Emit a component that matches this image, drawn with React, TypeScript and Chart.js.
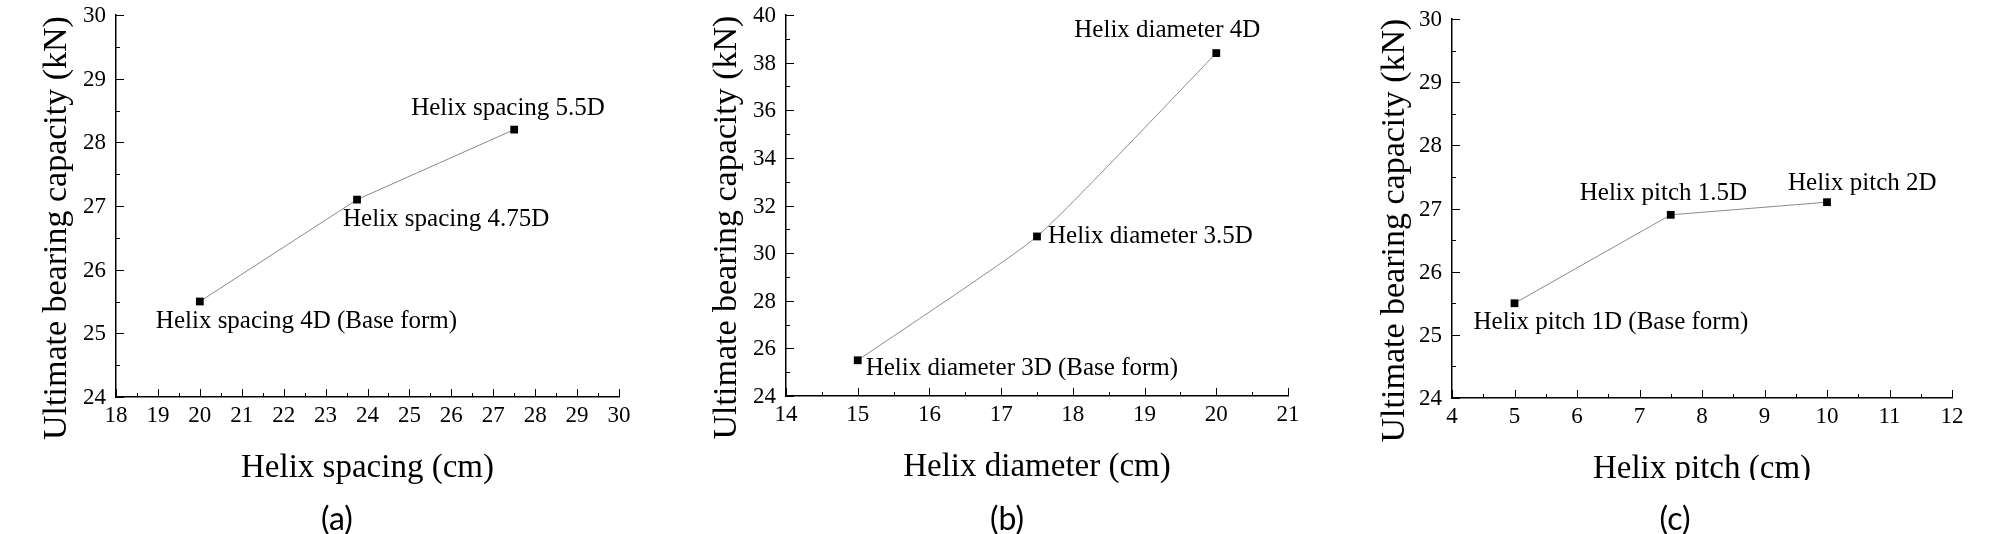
import { useEffect, useRef } from "react";
import { Chart, registerables } from "chart.js";

Chart.register(...registerables);

// ---------------- data ----------------
const spacingCm = [20, 23.75, 27.5];
const spacingCapacity = [25.5, 27.1, 28.2];
const spacingNotes = ["Helix spacing 4D (Base form)", "Helix spacing 4.75D", "Helix spacing 5.5D"];

const diameterCm = [15, 17.5, 20];
const diameterCapacity = [25.5, 30.7, 38.4];
const diameterNotes = ["Helix diameter 3D (Base form)", "Helix diameter 3.5D", "Helix diameter 4D"];

const pitchCm = [5, 7.5, 10];
const pitchCapacity = [25.5, 26.9, 27.1];
const pitchNotes = ["Helix pitch 1D (Base form)", "Helix pitch 1.5D", "Helix pitch 2D"];

const xAxisTitles = ["Helix spacing (cm)", "Helix diameter (cm)", "Helix pitch (cm)"];
const yAxisTitle = "Ultimate bearing capacity (kN)";
const panelCaptions = ["(a)", "(b)", "(c)"];

// axis ranges: min, max, labelled (major) step, minor step
const spacingAxis = [18, 30, 1, 0.5];
const diameterAxis = [14, 21, 1, 0.5];
const pitchAxis = [4, 12, 1, 0.5];
const capacityAxisA = [24, 30, 1, 0.5];
const capacityAxisB = [24, 40, 2, 1];
const capacityAxisC = [24, 30, 1, 0.5];

// ---------------- layout / style ----------------
const SERIF = "'Liberation Serif', 'Times New Roman', serif";
const PANEL_W = 670;
const PANEL_H = 534;
const Y_SCALE_W = 60;
const X_SCALE_H = 40;

type Panel = {
  left: number;
  area: { l: number; r: number; t: number; b: number };
  xs: number[];
  ys: number[];
  notes: string[];
  noteOffsets: [number, number][];
  xTitle: string;
  caption: string;
  xAxis: number[];
  yAxis: number[];
  tension: number;
  clipTitle: boolean;
};

const panels: Panel[] = [
  {
    left: 0,
    area: { l: 116, r: 619, t: 15, b: 397 },
    xs: spacingCm,
    ys: spacingCapacity,
    notes: spacingNotes,
    noteOffsets: [[-44, 20], [-14, 20], [-103, -21]],
    xTitle: xAxisTitles[0],
    caption: panelCaptions[0],
    xAxis: spacingAxis,
    yAxis: capacityAxisA,
    tension: 0,
    clipTitle: false,
  },
  {
    left: 670,
    area: { l: 116, r: 618, t: 15, b: 396 },
    xs: diameterCm,
    ys: diameterCapacity,
    notes: diameterNotes,
    noteOffsets: [[8, 8], [11, 0], [-142, -23]],
    xTitle: xAxisTitles[1],
    caption: panelCaptions[1],
    xAxis: diameterAxis,
    yAxis: capacityAxisB,
    tension: 0.15,
    clipTitle: false,
  },
  {
    left: 1338,
    area: { l: 114, r: 614, t: 19, b: 398 },
    xs: pitchCm,
    ys: pitchCapacity,
    notes: pitchNotes,
    noteOffsets: [[-41, 19], [-91, -21], [-39, -19]],
    xTitle: xAxisTitles[2],
    caption: panelCaptions[2],
    xAxis: pitchAxis,
    yAxis: capacityAxisC,
    tension: 0,
    clipTitle: true,
  },
];

const isMajor = (v: number, step: number) => Math.abs(v / step - Math.round(v / step)) < 1e-6;

function makeDecor(p: Panel) {
  return {
    id: "decor",
    afterDraw(chart: any) {
      const ctx = chart.ctx as CanvasRenderingContext2D;
      const xs = chart.scales.x;
      const ys = chart.scales.y;
      const ca = chart.chartArea;
      ctx.save();
      ctx.strokeStyle = "#000";
      ctx.fillStyle = "#000";
      ctx.lineWidth = 1;
      ctx.font = `23px ${SERIF}`;
      // x ticks: inward marks + labels
      ctx.textAlign = "center";
      ctx.textBaseline = "top";
      xs.ticks.forEach((t: any) => {
        const px = xs.getPixelForValue(t.value);
        const major = isMajor(t.value, p.xAxis[2]);
        const len = major ? 8 : 4;
        const ax = Math.round(px) + 0.5;
        ctx.beginPath();
        ctx.moveTo(ax, ca.bottom);
        ctx.lineTo(ax, ca.bottom - len);
        ctx.stroke();
        if (major) ctx.fillText(String(t.value), px, ca.bottom + 7);
      });
      // y ticks: inward marks + labels
      ctx.textAlign = "right";
      ctx.textBaseline = "middle";
      ys.ticks.forEach((t: any) => {
        const py = ys.getPixelForValue(t.value);
        const major = isMajor(t.value, p.yAxis[2]);
        const len = major ? 8 : 4;
        const ay = Math.round(py) + 0.5;
        ctx.beginPath();
        ctx.moveTo(ca.left, ay);
        ctx.lineTo(ca.left + len, ay);
        ctx.stroke();
        if (major) ctx.fillText(String(t.value), ca.left - 10, py + 1);
      });
      // point annotations
      ctx.font = `25px ${SERIF}`;
      ctx.textAlign = "left";
      ctx.textBaseline = "middle";
      p.notes.forEach((txt, i) => {
        const px = xs.getPixelForValue(p.xs[i]);
        const py = ys.getPixelForValue(p.ys[i]);
        ctx.fillText(txt, px + p.noteOffsets[i][0], py + p.noteOffsets[i][1]);
      });
      // x title
      ctx.save();
      if (p.clipTitle) {
        ctx.beginPath();
        ctx.rect(0, 0, chart.width, ca.bottom + 82);
        ctx.clip();
      }
      ctx.font = `33px ${SERIF}`;
      ctx.textAlign = "center";
      ctx.fillText(p.xTitle, (ca.left + ca.right) / 2, ca.bottom + 71);
      ctx.restore();
      // y title
      ctx.save();
      ctx.translate(57, (ca.top + ca.bottom) / 2 + 22);
      ctx.rotate(-Math.PI / 2);
      ctx.font = `34px ${SERIF}`;
      ctx.textAlign = "center";
      ctx.fillText(yAxisTitle, 0, 0);
      ctx.restore();
      // caption
      ctx.font = `32px Lato, 'Open Sans', sans-serif`;
      ctx.textAlign = "center";
      ctx.fillText(p.caption, 337, 520);
      ctx.restore();
    },
  };
}

function PanelChart({ p }: { p: Panel }) {
  const ref = useRef<HTMLCanvasElement | null>(null);
  useEffect(() => {
    if (!ref.current) return;
    const chart = new Chart(ref.current, {
      type: "scatter",
      data: {
        datasets: [
          {
            data: p.xs.map((v, i) => ({ x: v, y: p.ys[i] })),
            showLine: true,
            borderColor: "#8a8a8a",
            borderWidth: 1,
            tension: p.tension,
            pointStyle: "rect",
            pointRadius: 5.5,
            pointHoverRadius: 5.5,
            pointBackgroundColor: "#000",
            pointBorderColor: "#000",
            pointBorderWidth: 0,
          } as any,
        ],
      },
      options: {
        animation: false,
        responsive: true,
        maintainAspectRatio: false,
        layout: {
          padding: {
            left: p.area.l - Y_SCALE_W,
            right: PANEL_W - p.area.r,
            top: p.area.t,
            bottom: PANEL_H - p.area.b - X_SCALE_H,
          },
        },
        plugins: { legend: { display: false }, tooltip: { enabled: false } },
        scales: {
          x: {
            type: "linear",
            min: p.xAxis[0],
            max: p.xAxis[1],
            grid: { display: false, drawTicks: false },
            border: { display: true, color: "#000", width: 1.5 },
            ticks: { stepSize: p.xAxis[3], autoSkip: false, display: false },
            afterFit: (s: any) => {
              s.height = X_SCALE_H;
            },
          },
          y: {
            type: "linear",
            min: p.yAxis[0],
            max: p.yAxis[1],
            grid: { display: false, drawTicks: false },
            border: { display: true, color: "#000", width: 1.5 },
            ticks: { stepSize: p.yAxis[3], autoSkip: false, display: false },
            afterFit: (s: any) => {
              s.width = Y_SCALE_W;
            },
          },
        },
      } as any,
      plugins: [makeDecor(p)],
    });
    return () => chart.destroy();
  }, [p]);
  return (
    <div style={{ position: "absolute", left: p.left, top: 0, width: PANEL_W, height: PANEL_H }}>
      <canvas ref={ref} />
    </div>
  );
}

export default function App() {
  return (
    <div
      style={{
        position: "absolute",
        left: 0,
        top: 0,
        width: 2008,
        height: 534,
        background: "#fff",
        overflow: "hidden",
      }}
    >
      {panels.map((p, i) => (
        <PanelChart key={i} p={p} />
      ))}
    </div>
  );
}
